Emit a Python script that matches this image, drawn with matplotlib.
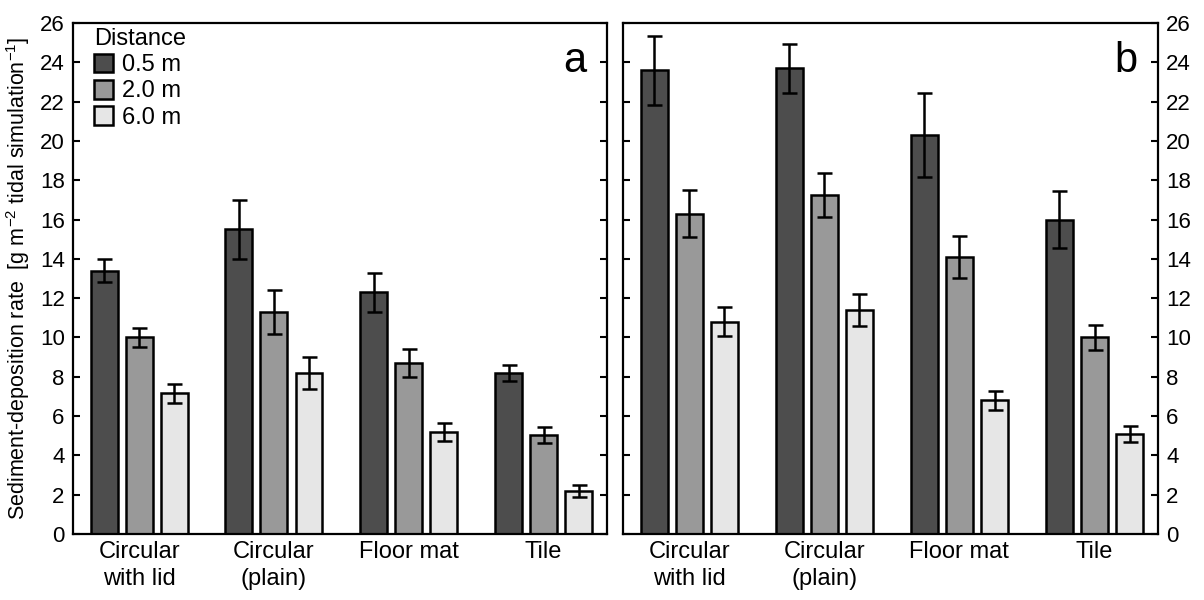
import numpy as np
import matplotlib
matplotlib.use('Agg')
import matplotlib.pyplot as plt

plt.rcParams['font.family'] = ['Liberation Sans', 'DejaVu Sans']
plt.rcParams['mathtext.fontset'] = 'custom'
plt.rcParams['mathtext.rm'] = 'Liberation Sans'
plt.rcParams['mathtext.default'] = 'regular'

categories = ['Circular\nwith lid', 'Circular\n(plain)', 'Floor mat', 'Tile']
distances = ['0.5 m', '2.0 m', '6.0 m']
colors = ['#4d4d4d', '#999999', '#e6e6e6']

# panel a: mean and error per distance
a_vals = [[13.4, 15.5, 12.3, 8.2],
          [10.0, 11.3, 8.7, 5.05],
          [7.15, 8.2, 5.2, 2.2]]
a_errs = [[0.6, 1.5, 1.0, 0.4],
          [0.5, 1.1, 0.7, 0.4],
          [0.5, 0.8, 0.45, 0.3]]

# panel b
b_vals = [[23.6, 23.7, 20.3, 16.0],
          [16.3, 17.25, 14.1, 10.0],
          [10.8, 11.4, 6.8, 5.1]]
b_errs = [[1.75, 1.25, 2.15, 1.45],
          [1.2, 1.1, 1.05, 0.65],
          [0.75, 0.8, 0.5, 0.4]]

yticks = list(range(0, 27, 2))


def draw_panel(ax, vals, errs, letter, side):
    x = np.arange(len(categories))
    for i in range(len(distances)):
        ax.bar(x + (i - 1) * 0.26, vals[i], width=0.2, color=colors[i],
               edgecolor='black', linewidth=1.8, label=distances[i],
               yerr=errs[i], capsize=5.4,
               error_kw=dict(elinewidth=1.8, capthick=1.8, ecolor='black'))
    ax.set_xlim(-0.49, 3.47)
    ax.set_ylim(0, 26)
    ax.set_yticks(yticks)
    ax.set_xticks(x)
    ax.set_xticklabels(categories, fontsize=17, linespacing=1.3)
    ax.tick_params(axis='x', length=0, pad=5)
    ax.tick_params(axis='y', direction='in', length=5, width=1.5,
                   left=True, right=True, labelsize=16, pad=6,
                   labelleft=(side == 'left'), labelright=(side == 'right'))
    for s in ax.spines.values():
        s.set_linewidth(1.6)
    ax.text(0.94, 0.925, letter, transform=ax.transAxes, fontsize=30,
            ha='center', va='center')


fig = plt.figure(figsize=(12.04, 6.0), dpi=100)
ax_a = fig.add_axes([73 / 1204, 66 / 600, 534 / 1204, 511 / 600])
ax_b = fig.add_axes([623 / 1204, 66 / 600, 535 / 1204, 511 / 600])

draw_panel(ax_a, a_vals, a_errs, 'a', 'left')
draw_panel(ax_b, b_vals, b_errs, 'b', 'right')

ax_a.set_ylabel('Sediment-deposition rate  [g m$^{-2}$ tidal simulation$^{-1}$]',
                fontsize=15.5)
ax_a.yaxis.set_label_coords(-0.077, 0.5)

leg = ax_a.legend(loc='upper left', bbox_to_anchor=(0.04, 0.99), frameon=False,
                  title='Distance', fontsize=17, title_fontsize=17,
                  alignment='left', borderpad=0, borderaxespad=0,
                  handlelength=0.8, handleheight=0.85, handletextpad=0.35,
                  labelspacing=0.15)

fig.savefig('out.png', dpi=100)
